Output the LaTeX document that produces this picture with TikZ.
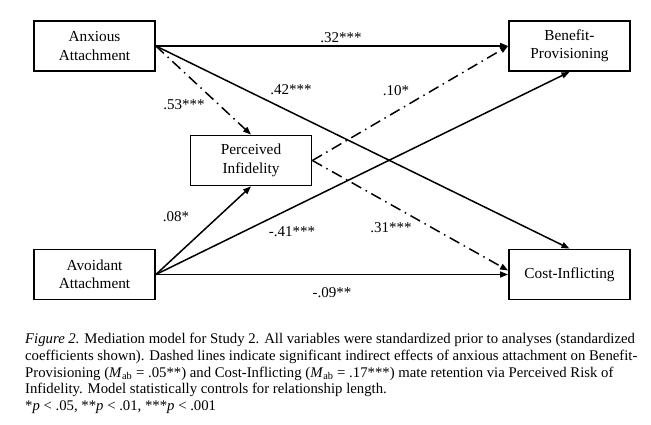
\documentclass[tikz,border=0pt]{standalone}
\usepackage{fontspec}
\setmainfont{Liberation Serif}
\usetikzlibrary{arrows.meta,calc}
\begin{document}
\begin{tikzpicture}[x=1pt,y=-1pt,
  box/.style={draw,line width=1.8pt,minimum width=121pt,minimum height=50pt,align=center,font=\fontsize{15.3}{18.5}\selectfont,inner sep=1pt},
  lab/.style={font=\fontsize{15}{16}\selectfont,inner sep=0pt},
  conn/.style={line width=1.5pt,-{Triangle[length=8pt,width=6pt]}},
  dd/.style={conn,dash pattern=on 11pt off 5pt on 1.5pt off 5pt}]
\useasboundingbox (0,0) rectangle (651,425);
\node[box] (anx) at (94.5,46) {Anxious\\Attachment};
\node[box] (ben) at (569.5,46) {Benefit-\\Provisioning};
\node[box] (per) at (251,160.5) {Perceived\\Infidelity};
\node[box] (avo) at (94.5,274.5) {Avoidant\\Attachment};
\node[box] (cost) at (569.5,274.5) {Cost-Inflicting};
\draw[conn] (anx.east) -- (ben.west);
\draw[conn] (anx.east) -- (cost.north);
\draw[dd] (anx.east) -- (per.north);
\draw[dd] (per.east) -- (ben.west);
\draw[dd] (per.east) -- ($(cost.west)+(0,-4)$);
\draw[conn] (avo.east) -- (per.south);
\draw[conn] (avo.east) -- (ben.south);
\draw[conn] (avo.east) -- (cost.west);
\node[lab] (l32) at (341,38) {.32***};
\node[lab] (l42) at (291,90) {.42***};
\node[lab] (l53) at (184,105) {.53***};
\node[lab] (l10) at (396,91) {.10*};
\node[lab] (l31) at (391,228) {.31***};
\node[lab] (l08) at (176,217) {.08*};
\node[lab] (l41) at (292,232) {-.41***};
\node[lab] (l09) at (332,293) {-.09**};
\node[anchor=north west,inner sep=0pt,align=left,font=\fontsize{14.75}{16.8}\selectfont] (cap) at (25,333) {%
\textit{Figure 2.} Mediation model for Study 2. All variables were standardized prior to analyses (standardized\\
coefficients shown). Dashed lines indicate significant indirect effects of anxious attachment on Benefit-\\
Provisioning (\textit{M}\textsubscript{ab} = .05**) and Cost-Inflicting (\textit{M}\textsubscript{ab} = .17***) mate retention via Perceived Risk of\\
Infidelity. Model statistically controls for relationship length.\\
*\textit{p} < .05, **\textit{p} < .01, ***\textit{p} < .001};
\end{tikzpicture}
\end{document}
